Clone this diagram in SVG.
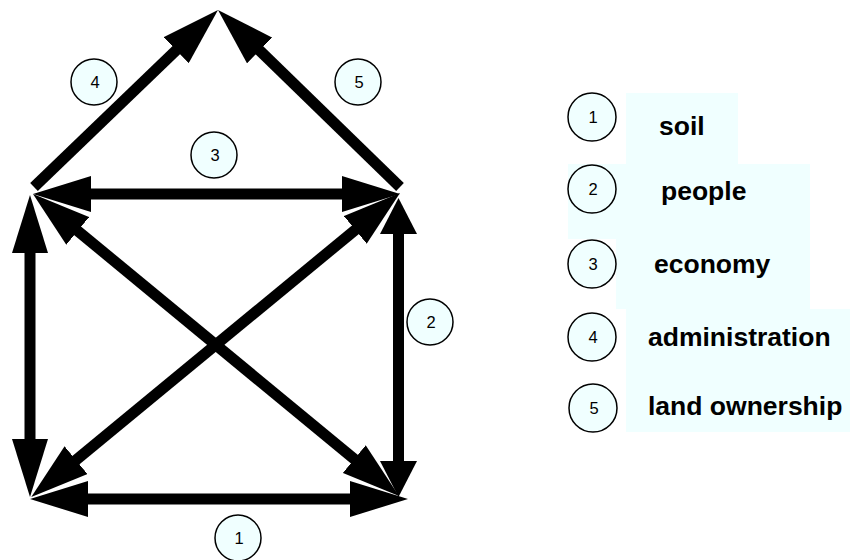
<svg xmlns="http://www.w3.org/2000/svg" width="852" height="560" viewBox="0 0 852 560">
<style>
.ln{stroke:#000;stroke-width:11;fill:none;stroke-linecap:butt}
.c{fill:#F0FFFF;stroke:#000;stroke-width:1.5}
.bg{fill:#F0FFFF}
.n{font-family:"Liberation Sans",Arial,sans-serif;font-size:16.5px;fill:#000;text-anchor:middle}
.t{font-family:"Liberation Sans",Arial,sans-serif;font-size:26.5px;font-weight:bold;fill:#000}
</style>
<defs>
<marker id="hl" markerUnits="userSpaceOnUse" viewBox="0 0 58 36" markerWidth="58" markerHeight="36" refX="18" refY="18" orient="auto-start-reverse">
<path d="M0,0 L58,18 L0,36 z" fill="#000"/>
</marker>
<marker id="hs" markerUnits="userSpaceOnUse" viewBox="0 0 36 37" markerWidth="36" markerHeight="37" refX="12" refY="18.5" orient="auto-start-reverse">
<path d="M0,0 L36,18.5 L0,37 z" fill="#000"/>
</marker>
</defs>
<rect width="852" height="560" fill="#fff"/>
<g id="connectors">
<line class="ln" x1="73" y1="194" x2="360" y2="194" marker-start="url(#hl)" marker-end="url(#hl)"/>
<line class="ln" x1="70" y1="499" x2="368" y2="499" marker-start="url(#hl)" marker-end="url(#hl)"/>
<line class="ln" x1="30" y1="235" x2="30" y2="457" marker-start="url(#hl)" marker-end="url(#hl)"/>
<line class="ln" x1="398.5" y1="222" x2="398.5" y2="473" marker-start="url(#hs)" marker-end="url(#hs)"/>
<line class="ln" x1="63.85" y1="219.46" x2="368.15" y2="470.54" marker-start="url(#hl)" marker-end="url(#hl)"/>
<line class="ln" x1="369.13" y1="218.43" x2="62.13" y2="471.57" marker-start="url(#hl)" marker-end="url(#hl)"/>
<line class="ln" x1="34" y1="187" x2="189.17" y2="37.74" marker-end="url(#hl)"/>
<line class="ln" x1="400" y1="187" x2="246.67" y2="37.89" marker-end="url(#hl)"/>
</g>
<g id="label1"><circle class="c" cx="238" cy="538" r="23"/><text class="n" x="239" y="544">1</text></g>
<g id="label2"><circle class="c" cx="430" cy="322" r="23"/><text class="n" x="431" y="328">2</text></g>
<g id="label3"><circle class="c" cx="214" cy="155" r="23"/><text class="n" x="215" y="161">3</text></g>
<g id="label4"><circle class="c" cx="94" cy="82" r="23"/><text class="n" x="95" y="88">4</text></g>
<g id="label5"><circle class="c" cx="358" cy="82" r="23"/><text class="n" x="359" y="88">5</text></g>
<g id="legend">
<rect class="bg" x="626" y="93" width="112" height="71"/>
<rect class="bg" x="568" y="164" width="242" height="75"/>
<rect class="bg" x="616" y="239" width="194" height="70"/>
<rect class="bg" x="626" y="309" width="224" height="123"/>
<g id="legend1"><circle class="c" cx="592" cy="117" r="24"/><text class="n" x="593" y="123">1</text><text class="t" x="659" y="135">soil</text></g>
<g id="legend2"><circle class="c" cx="592" cy="189" r="24"/><text class="n" x="593" y="195">2</text><text class="t" x="661" y="200">people</text></g>
<g id="legend3"><circle class="c" cx="592" cy="264" r="24"/><text class="n" x="593" y="270">3</text><text class="t" x="654" y="273">economy</text></g>
<g id="legend4"><circle class="c" cx="592" cy="337" r="24"/><text class="n" x="593" y="343">4</text><text class="t" x="648" y="346">administration</text></g>
<g id="legend5"><circle class="c" cx="593" cy="408" r="24"/><text class="n" x="594" y="414">5</text><text class="t" x="648" y="415">land ownership</text></g>
</g>
</svg>
